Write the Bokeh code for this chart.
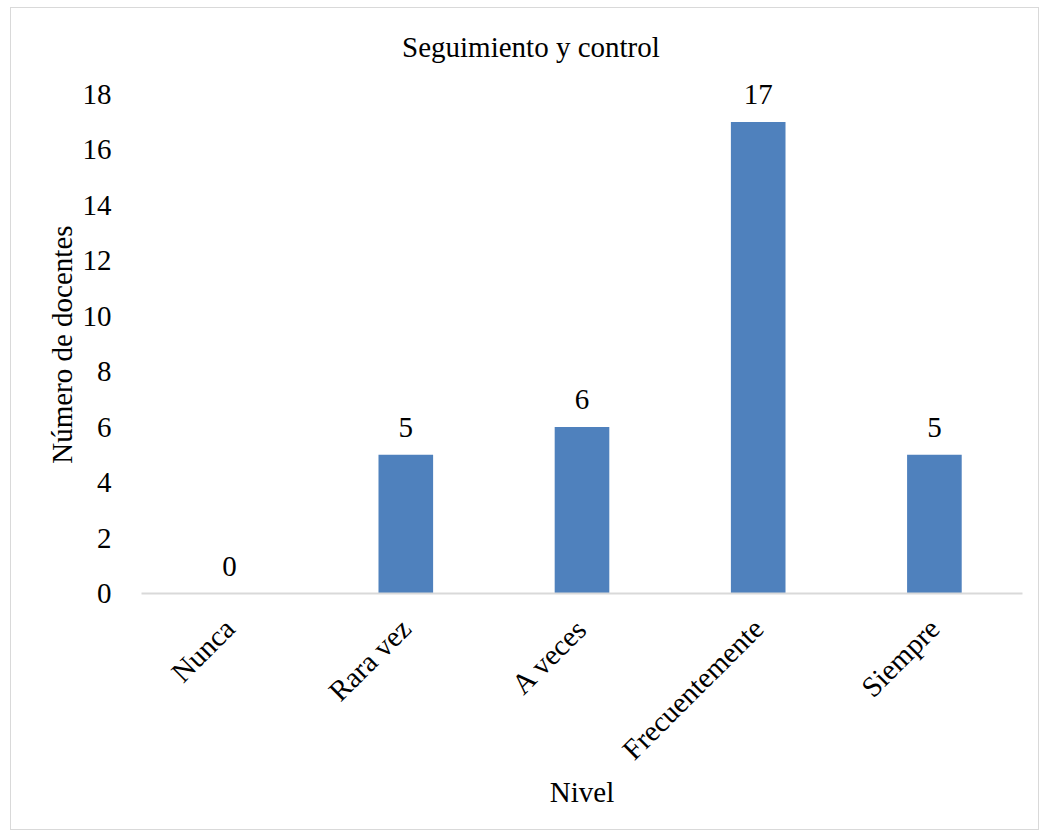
import math
from bokeh.plotting import figure
from bokeh.models import ColumnDataSource, Range1d, FixedTicker, LabelSet, Label
from bokeh.core.properties import value
from bokeh.embed import file_html
from bokeh.resources import INLINE

categories = ["Nunca", "Rara vez", "A veces", "Frecuentemente", "Siempre"]
counts = [0, 5, 6, 17, 5]
y_ticks = [0, 2, 4, 6, 8, 10, 12, 14, 16, 18]
chart_title = "Seguimiento y control"
y_title = "Número de docentes"
x_title = "Nivel"

FONT = "Liberation Serif"
BAR = "#4f81bd"

src = ColumnDataSource(dict(cat=categories, n=counts, lab=[str(v) for v in counts]))

p = figure(x_range=categories, y_range=Range1d(0, 20.3), width=1029, height=823,
           output_backend="svg", toolbar_location=None,
           min_border_left=130, min_border_right=18, min_border_top=22, min_border_bottom=238)
p.styles = {"border": "1px solid #d9d9d9", "box-sizing": "border-box",
            "margin": "7px 0 0 10px"}
p.outline_line_color = None
p.background_fill_color = "white"
p.border_fill_color = "white"

p.vbar(x="cat", top="n", width=0.31, source=src, fill_color=BAR, line_color=None)

labels = LabelSet(x="cat", y="n", text="lab", source=src, text_align="center",
                  text_baseline="bottom", y_offset=18, text_font=value(FONT),
                  text_font_size="29px", text_color="black")
p.add_layout(labels)

p.xgrid.grid_line_color = None
p.ygrid.grid_line_color = None

p.yaxis.ticker = FixedTicker(ticks=y_ticks)
p.yaxis.axis_line_color = None
p.yaxis.major_tick_line_color = None
p.yaxis.minor_tick_line_color = None
p.yaxis.major_label_text_font = FONT
p.yaxis.major_label_text_font_size = "29px"
p.yaxis.major_label_text_color = "black"
p.yaxis.major_label_standoff = 24
# trailing no-break spaces keep the label centred on the 0-18 value span
p.yaxis.axis_label = y_title + "\u00a0" * 9
p.yaxis.axis_label_text_font = FONT
p.yaxis.axis_label_text_font_size = "29px"
p.yaxis.axis_label_text_font_style = "normal"
p.yaxis.axis_label_text_color = "black"
p.yaxis.axis_label_standoff = 2

p.xaxis.axis_line_color = "#d9d9d9"
p.xaxis.axis_line_width = 2
p.xaxis.major_tick_line_color = None
p.xaxis.minor_tick_line_color = None
p.xaxis.major_label_orientation = math.pi / 4
p.xaxis.major_label_text_font = FONT
p.xaxis.major_label_text_font_size = "29px"
p.xaxis.major_label_text_color = "black"
p.xaxis.major_label_standoff = 24
p.xaxis.axis_label = x_title
p.xaxis.axis_label_text_font = FONT
p.xaxis.axis_label_text_font_size = "29px"
p.xaxis.axis_label_text_font_style = "normal"
p.xaxis.axis_label_text_color = "black"
p.xaxis.axis_label_standoff = -4

# chart title placed over the whole chart area (left of the plot-frame centre)
title = Label(x=2.21, y=19.7, x_units="data", y_units="data", text=chart_title,
              text_align="center", text_baseline="middle", text_font=FONT,
              text_font_size="29px", text_color="black")
p.add_layout(title)

open("out.html", "w").write(file_html(p, INLINE))
